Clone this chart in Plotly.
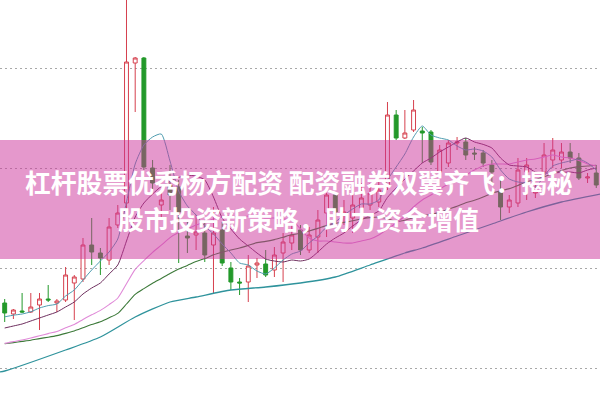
import plotly.graph_objects as go

# ---- data (prices) ----
candle_idx = list(range(69))
open_ = [8.825,8.77,8.785,8.78,8.815,8.845,8.825,8.84,8.925,8.945,9.115,9.075,9.04,9.215,9.325,10.025,10.05,9.5,9.315,9.415,
         9.405,9.16,9.165,9.175,9.115,9.19,9.0,8.93,8.93,9.015,9.02,8.99,9.075,9.125,9.19,9.09,9.155,9.275,9.365,9.27,
         9.25,9.3,9.315,9.33,9.405,9.765,9.65,9.69,9.685,9.68,9.48,9.525,9.625,9.63,9.575,9.575,9.515,9.38,9.305,9.325,
         9.48,9.375,9.48,9.54,9.54,9.58,9.55,9.45,9.475]
high = [8.845,8.795,8.875,8.875,8.875,8.915,8.845,9.005,8.965,9.15,9.25,9.1,9.25,9.315,10.49,10.055,10.055,9.54,9.375,9.515,
        9.44,9.24,9.265,9.24,9.305,9.23,9.03,8.95,9.065,9.05,9.09,9.105,9.175,9.215,9.215,9.205,9.29,9.375,9.365,9.34,
        9.39,9.425,9.425,9.44,9.83,9.79,9.79,9.84,9.705,9.69,9.615,9.64,9.655,9.65,9.605,9.59,9.54,9.455,9.365,9.55,
        9.55,9.415,9.625,9.65,9.625,9.625,9.575,9.475,9.515]
low = [8.73,8.745,8.775,8.775,8.69,8.83,8.78,8.83,8.74,8.93,9.015,8.965,9.015,9.2,9.29,9.78,9.49,9.39,9.255,9.29,
       9.025,9.075,9.09,9.03,8.875,9.01,8.89,8.865,8.83,8.95,8.955,8.955,8.93,9.09,9.065,9.075,9.075,9.155,9.225,9.215,
       9.175,9.275,9.29,9.305,9.39,9.64,9.645,9.68,9.525,9.515,9.465,9.505,9.59,9.54,9.54,9.505,9.415,9.24,9.275,9.305,
       9.34,9.35,9.455,9.5,9.5,9.525,9.44,9.425,9.4]
close = [8.775,8.79,8.78,8.805,8.845,8.84,8.835,8.965,8.955,9.115,9.08,9.05,9.205,9.275,10.03,10.05,9.505,9.425,9.34,9.365,
         9.28,9.15,9.18,9.065,9.175,9.025,8.93,8.925,9.01,9.025,8.965,9.065,9.13,9.165,9.09,9.165,9.24,9.365,9.28,9.28,
         9.315,9.35,9.375,9.39,9.765,9.65,9.675,9.79,9.675,9.53,9.59,9.625,9.63,9.565,9.57,9.525,9.48,9.305,9.34,9.49,
         9.515,9.385,9.565,9.59,9.58,9.55,9.45,9.455,9.415]

ma5 = [8.756,8.764,8.77,8.781,8.80,8.812,8.82,8.86,8.89,8.94,8.99,9.035,9.08,9.145,9.33,9.52,9.615,9.655,9.67,9.535,
       9.385,9.31,9.265,9.21,9.17,9.12,9.075,9.025,9.015,8.985,8.97,9.0,9.04,9.07,9.085,9.125,9.16,9.205,9.23,9.265,
       9.295,9.32,9.32,9.34,9.44,9.505,9.57,9.655,9.71,9.665,9.65,9.64,9.61,9.59,9.595,9.585,9.555,9.49,9.445,9.43,
       9.425,9.405,9.46,9.51,9.525,9.535,9.545,9.525,9.49]
ma10 = [8.70,8.71,8.72,8.735,8.75,8.765,8.78,8.805,8.83,8.87,8.90,8.925,8.97,9.015,9.135,9.255,9.325,9.37,9.408,9.433,
        9.453,9.463,9.46,9.44,9.355,9.25,9.195,9.145,9.11,9.075,9.045,9.035,9.03,9.04,9.035,9.045,9.08,9.12,9.15,9.175,
        9.21,9.24,9.263,9.285,9.353,9.40,9.445,9.485,9.525,9.55,9.58,9.605,9.63,9.65,9.63,9.618,9.60,9.55,9.515,9.51,
        9.505,9.48,9.475,9.475,9.478,9.48,9.475,9.49,9.50]
ma20 = [8.623,8.632,8.64,8.65,8.661,8.672,8.683,8.701,8.718,8.743,8.766,8.788,8.817,8.85,8.921,8.993,9.037,9.078,9.114,9.152,
        9.177,9.195,9.215,9.23,9.245,9.255,9.26,9.255,9.26,9.255,9.25,9.25,9.245,9.24,9.195,9.15,9.135,9.135,9.13,9.125,
        9.125,9.135,9.145,9.165,9.195,9.225,9.26,9.305,9.34,9.365,9.395,9.42,9.445,9.465,9.49,9.51,9.52,9.52,9.52,9.53,
        9.54,9.545,9.555,9.565,9.555,9.55,9.538,9.52,9.51]
ma30 = [8.621,8.627,8.633,8.639,8.647,8.654,8.662,8.673,8.685,8.701,8.717,8.731,8.751,8.773,8.82,8.868,8.897,8.924,8.948,8.973,
        8.995,9.013,9.032,9.047,9.066,9.079,9.09,9.10,9.113,9.127,9.133,9.142,9.154,9.166,9.174,9.185,9.198,9.212,9.223,9.228,
        9.236,9.246,9.252,9.255,9.247,9.233,9.239,9.251,9.262,9.268,9.278,9.294,9.309,9.326,9.339,9.355,9.374,9.386,9.397,9.413,
        9.431,9.442,9.456,9.471,9.487,9.50,9.507,9.51,9.514]
ma60_idx = [-0.6,0,7,11,15,19,22,26,30,34,38,42,46,48,52,56,60,64,68.5]
ma60 = [8.48,8.485,8.59,8.655,8.755,8.83,8.855,8.89,8.905,8.925,8.955,9.015,9.075,9.10,9.16,9.22,9.28,9.33,9.37]

grid_vals = [8.5, 9.0, 9.5, 10.0]
title_line1 = "杠杆股票优秀杨方配资 配资融券双翼齐飞：揭秘"
title_line2 = "股市投资新策略，助力资金增值"

RED = "#d6404e"
GREEN = "#23992a"

fig = go.Figure()

def ma_trace(x, y, color, width=1.1, shape="spline"):
    return go.Scatter(x=x, y=y, mode="lines", line=dict(color=color, width=width, shape=shape, smoothing=0.6),
                      hoverinfo="skip", showlegend=False)

fig.add_trace(ma_trace(ma60_idx, ma60, "#2f939c", 1.3))
fig.add_trace(ma_trace(candle_idx, ma30, "#3d7a3a", 1.1))
fig.add_trace(ma_trace(candle_idx, ma20, "#e08ad8", 1.1))
fig.add_trace(ma_trace(candle_idx, ma10, "#6e2e5e", 1.0))
fig.add_trace(ma_trace(candle_idx, ma5, "#4f9db0", 1.0))

fig.add_trace(go.Candlestick(
    x=candle_idx, open=open_, high=high, low=low, close=close,
    increasing=dict(line=dict(color=RED, width=1), fillcolor="white"),
    decreasing=dict(line=dict(color=GREEN, width=1), fillcolor=GREEN),
    whiskerwidth=0, showlegend=False, hoverinfo="skip",
))

fig.update_layout(
    width=600, height=401,
    margin=dict(l=0, r=0, t=0, b=0),
    paper_bgcolor="white", plot_bgcolor="white",
    showlegend=False,
    boxgap=0.36,
    xaxis=dict(range=[-0.54, 68.43], showgrid=False, zeroline=False, showticklabels=False,
               ticks="", showline=False, rangeslider=dict(visible=False)),
    yaxis=dict(range=[10.34 - 401 / 200, 10.34], tickvals=grid_vals, showticklabels=False, ticks="",
               showgrid=True, gridcolor="#a8a8a8", gridwidth=1, griddash="2px,3px",
               zeroline=False, showline=False),
)

fig.add_shape(type="rect", xref="paper", yref="paper", x0=0, x1=1,
              y0=1 - 259 / 401, y1=1 - 140 / 401,
              fillcolor="rgb(203,49,153)", opacity=0.5, line=dict(width=0), layer="above")

for txt, ypx, xc in [(title_line1, 181, 299), (title_line2, 219, 298)]:
    fig.add_annotation(text=txt, xref="paper", yref="paper", x=xc / 600, y=1 - ypx / 401,
                       xanchor="center", yanchor="middle", showarrow=False,
                       font=dict(family="Noto Sans CJK SC", size=25.8, color="white", weight="bold"))

fig.write_html("out.html", config={"displayModeBar": False, "staticPlot": True},
               post_script="document.body.style.margin='0';document.body.style.overflow='hidden';")
